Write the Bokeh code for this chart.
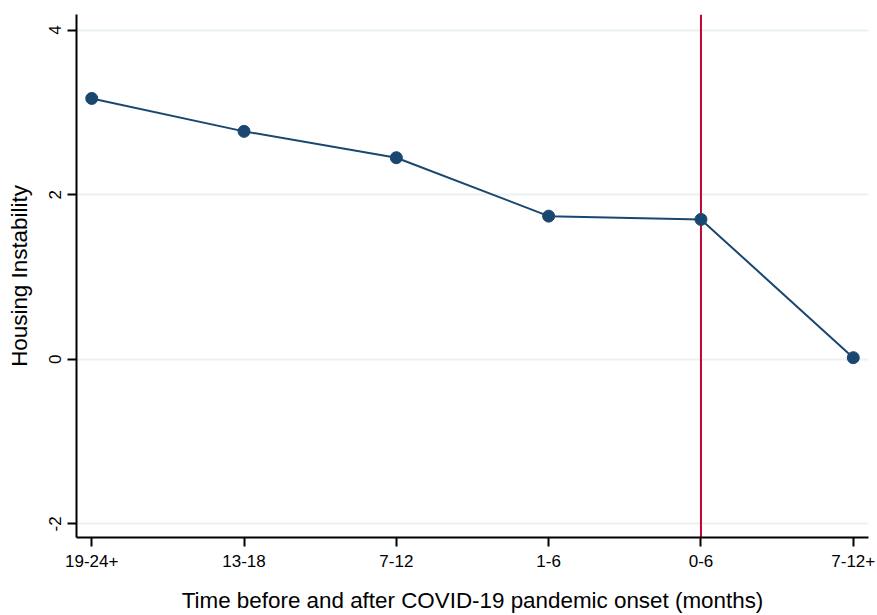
from bokeh.plotting import figure
from bokeh.models import FixedTicker, Span, Range1d, ColumnDataSource
from bokeh.embed import file_html
from bokeh.resources import INLINE

categories = ["19-24+", "13-18", "7-12", "1-6", "0-6", "7-12+"]
housing_instability = [3.17, 2.77, 2.45, 1.74, 1.70, 0.02]
y_ticks = [-2, 0, 2, 4]
y_tick_labels = ["-2", "0", "2", "4"]
onset_category = "0-6"
x_title = "Time before and after COVID-19 pandemic onset (months)"
y_title = "Housing Instability"

x_pos = list(range(len(categories)))
src = ColumnDataSource(dict(x=x_pos, y=housing_instability))

FONT = "Liberation Sans"
NAVY = "#1a476f"

x_lo, x_hi = -0.1, len(categories) - 0.9
p = figure(width=877, height=615, output_backend="svg", toolbar_location=None,
           x_range=Range1d(x_lo, x_hi), y_range=Range1d(-2.165, 4.19),
           min_border_left=76, min_border_right=9, min_border_top=14, min_border_bottom=78)
p.outline_line_color = None
p.background_fill_color = "white"
p.border_fill_color = "white"

p.xgrid.visible = False
p.ygrid.grid_line_color = "#eaf2f3"
p.ygrid.grid_line_width = 2
p.ygrid.ticker = FixedTicker(ticks=y_ticks)

span = Span(location=categories.index(onset_category), dimension="height",
            line_color="#c10534", line_width=2, level="underlay")
p.add_layout(span)

p.line("x", "y", source=src, line_color=NAVY, line_width=2)
p.scatter("x", "y", source=src, size=12, fill_color=NAVY, line_color=NAVY)

p.xaxis.ticker = FixedTicker(ticks=x_pos)
p.xaxis.major_label_overrides = {i: c for i, c in enumerate(categories)}
p.yaxis.ticker = FixedTicker(ticks=y_ticks)
p.yaxis.major_label_overrides = dict(zip(y_ticks, y_tick_labels))
p.yaxis.major_label_orientation = "vertical"

for ax in (p.xaxis[0], p.yaxis[0]):
    ax.axis_line_color = "black"
    ax.axis_line_width = 2
    ax.major_tick_line_color = "black"
    ax.major_tick_line_width = 2
    ax.major_tick_out = 9
    ax.major_tick_in = 0
    ax.minor_tick_line_color = None
    ax.major_label_text_font = FONT
    ax.major_label_text_font_size = "17px"
    ax.major_label_text_color = "black"
    ax.axis_label_text_font = FONT
    ax.axis_label_text_font_size = "22.4px"
    ax.axis_label_text_font_style = "normal"
    ax.axis_label_text_color = "black"

p.xaxis.axis_label = x_title
p.yaxis.axis_label = y_title
p.xaxis.major_label_standoff = 8
p.xaxis.axis_label_standoff = 18
p.yaxis.major_label_standoff = 6
p.yaxis.axis_label_standoff = 15

open("out.html", "w").write(file_html(p, INLINE))
